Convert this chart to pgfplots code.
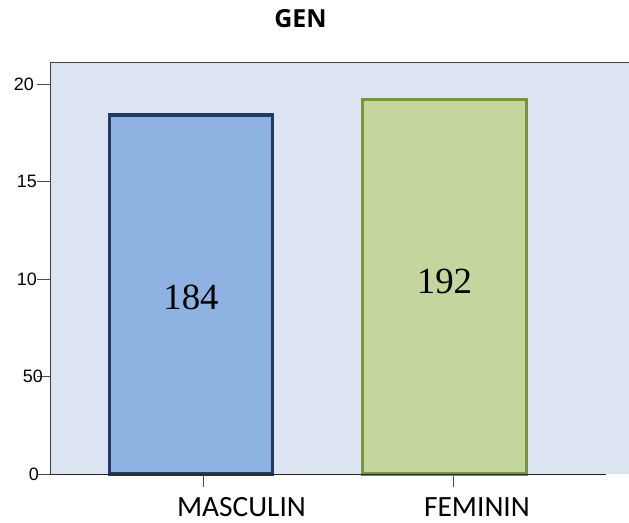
\documentclass[border=0pt]{standalone}
\usepackage{pgfplots}
\pgfplotsset{compat=1.18}
\usepackage{fontspec}
\setmainfont{Liberation Sans}
\newfontfamily\calibri{Carlito}
\newfontfamily\titlefont{Open Sans}
\newfontfamily\timesf{Liberation Serif}
\definecolor{bgblue}{HTML}{DBE4F0}
\definecolor{mfill}{HTML}{8EB3E3}
\definecolor{mline}{HTML}{1F3B64}
\definecolor{ffill}{HTML}{C4D69D}
\definecolor{fline}{HTML}{77953D}
\begin{document}
\begin{tikzpicture}
\path[use as bounding box] (0,0) rectangle (629bp,523bp);
\begin{axis}[
  at={(50bp,49bp)}, anchor=south west,
  scale only axis, width=579bp, height=411bp,
  xmin=50, xmax=629, ymin=0, ymax=210.8,
  axis background/.style={fill=bgblue},
  axis line style={draw=none},
  xtick pos=bottom, ytick pos=left,
  xtick={203,453}, xticklabels={},
  ytick={0,50,100,150,200},
  yticklabels={{0\hspace*{-2bp}},{50\hspace*{-6bp}},10,15,{20\hspace*{3bp}}},
  tick align=outside, major tick length=13bp,
  tick style={draw=black!70, line width=0.8bp},
  yticklabel style={font=\fontsize{18}{18}\selectfont, anchor=east, inner sep=0pt, xshift=0bp},
  /pgf/number format/assume math mode=true,
  clip=false,
]
\addplot[ybar, bar width=163, bar shift=0pt, fill=mfill, draw=mline, line width=3.5bp]
  coordinates {(191,184)};
\addplot[ybar, bar width=164, bar shift=0pt, fill=ffill, draw=fline, line width=3.5bp]
  coordinates {(444.5,192)};
\draw[black!75, line width=1bp] (axis cs:50,0) -- (axis cs:50,210.8) -- (axis cs:629,210.8);
\draw[black!85, line width=1bp] (axis cs:50,0) -- (axis cs:606,0);
\node[font=\timesf\fontsize{37}{37}\selectfont] at (axis cs:191,90.8) {184};
\node[font=\timesf\fontsize{37}{37}\selectfont] at (axis cs:444.5,99) {192};
\end{axis}
\node[anchor=base, font=\calibri\fontsize{29.5}{29.5}\selectfont, inner sep=0pt] at (241.5bp,6.5bp) {MASCULIN};
\node[anchor=base, font=\calibri\fontsize{29.5}{29.5}\selectfont, inner sep=0pt] at (477bp,6.5bp) {FEMININ};
\node[anchor=base, font=\titlefont\bfseries\fontsize{25}{25}\selectfont, inner sep=0pt] at (300.5bp,495bp) {GEN};
\end{tikzpicture}
\end{document}
